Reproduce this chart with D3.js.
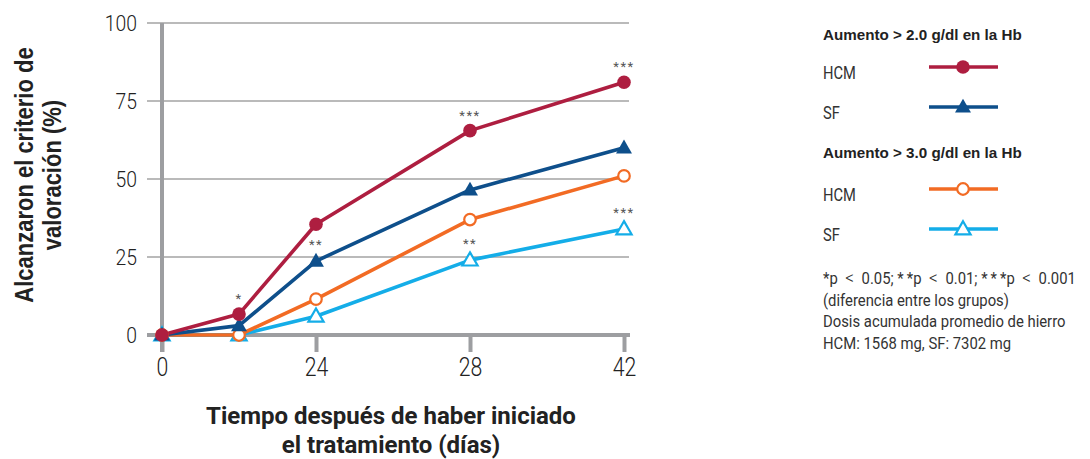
<!DOCTYPE html>
<html>
<head>
<meta charset="utf-8">
<script src="https://cdn.jsdelivr.net/npm/d3@7"></script>
<style>
  html, body { margin: 0; padding: 0; background: #fff; }
  svg { display: block; }
  text { font-family: "Roboto", "Liberation Sans", sans-serif; }
  .helv { font-family: "Liberation Sans", "Arial", sans-serif; }
</style>
</head>
<body>
<svg id="chart" width="1090" height="459"></svg>
<script>
// Axis slots: 0, 24, 28 and 42 days are evenly spaced; one intermediate visit sits halfway to day 24
const tickSlots = [0, 1, 2, 3];
const tickLabels = ["0", "24", "28", "42"];
const visitSlots = [0, 0.5, 1, 2, 3];
const yTicks = [0, 25, 50, 75, 100];

// Percentage of patients reaching the endpoint
const hcm20 = [0, 6.7, 35.5, 65.5, 81];
const sf20  = [0, 3, 23.7, 46.5, 60];
const hcm30 = [0, 0, 11.5, 37, 51];
const sf30  = [0, 0, 6, 24, 34];

const seriesColors = ["#ae1e40", "#0e4f8b", "#f26b24", "#14ade8"];
const seriesSymbols = ["circle", "triangle", "circle", "triangle"];
const seriesFilled = [true, true, false, false];

// Significance marks: series index, visit index, label
const sigSeries = [0, 1, 0, 3, 0, 3];
const sigVisit  = [1, 2, 3, 3, 4, 4];
const sigText   = ["*", "**", "***", "**", "***", "***"];

const legendGroups = ["Aumento > 2.0 g/dl en la Hb", "Aumento > 3.0 g/dl en la Hb"];
const legendLabels = ["HCM", "SF", "HCM", "SF"];
// First footnote: significance levels, each as [stars, threshold]
const pLevels = [["*", "0.05"], ["*\u2009*", "0.01"], ["*\u2009*\u2009*", "0.001"]];
const footnotes = [
  "(diferencia entre los grupos)",
  "Dosis acumulada promedio de hierro",
  "HCM: 1568 mg, SF: 7302 mg"
];

const values = [hcm20, sf20, hcm30, sf30];

const svg = d3.select("#chart");
const axisGray = "#9d9ea1";
const gridGray = "#a3a3a3";

const x = d3.scaleLinear().domain([0, 3]).range([162, 624]);
const y = d3.scaleLinear().domain([0, 100]).range([335, 23]);

// Horizontally condensed text placed at (px, py)
function narrowText(parent, px, py, sx, str) {
  return parent.append("g")
    .attr("transform", `translate(${px},${py}) scale(${sx},1)`)
    .append("text").text(str);
}

// Gridlines
svg.append("g")
  .selectAll("line")
  .data(yTicks.filter(d => d > 0))
  .join("line")
  .attr("x1", 147).attr("x2", 629)
  .attr("y1", d => y(d)).attr("y2", d => y(d))
  .attr("stroke", gridGray).attr("stroke-width", 1.3);

// Y axis
const yAxis = svg.append("g").attr("transform", "translate(137,0)")
  .call(d3.axisLeft(y).tickValues(yTicks).tickSize(0).tickPadding(0));
yAxis.select(".domain").remove();
yAxis.selectAll("text")
  .attr("x", 0)
  .attr("transform", "scale(0.88,1)")
  .style("font-size", "22px").style("font-weight", "300").attr("fill", "#222")
  .attr("dy", "0.36em");

svg.append("line")
  .attr("x1", x(0)).attr("x2", x(0))
  .attr("y1", y(100)).attr("y2", 352)
  .attr("stroke", axisGray).attr("stroke-width", 4);

// X axis
svg.append("line")
  .attr("x1", 147).attr("x2", 630)
  .attr("y1", y(0)).attr("y2", y(0))
  .attr("stroke", axisGray).attr("stroke-width", 4);

const xAxis = svg.append("g").attr("transform", `translate(0,${y(0)})`)
  .call(d3.axisBottom(x).tickValues(tickSlots)
    .tickFormat((d, i) => tickLabels[i]).tickSize(17).tickPadding(6));
xAxis.select(".domain").remove();
xAxis.selectAll("line").attr("stroke", axisGray).attr("stroke-width", 4);
xAxis.selectAll("text")
  .attr("transform", "scale(0.85,1)")
  .style("font-size", "25px").style("font-weight", "300").attr("fill", "#222");

// Series lines
const line = d3.line().x((d, i) => x(visitSlots[i])).y(d => y(d));
const drawOrder = [3, 2, 1, 0];
drawOrder.forEach(s => {
  svg.append("path")
    .datum(values[s])
    .attr("d", line)
    .attr("fill", "none")
    .attr("stroke", seriesColors[s])
    .attr("stroke-width", 3.6)
    .attr("stroke-linejoin", "round");
});

function symbolPath(s) {
  return seriesSymbols[s] === "circle"
    ? d3.symbol(d3.symbolCircle, seriesFilled[s] ? 145 : 105)()
    : d3.symbol(d3.symbolTriangle, seriesFilled[s] ? 110 : 100)();
}

function drawMarker(g, s, cx, cy) {
  g.append("path")
    .attr("d", symbolPath(s))
    .attr("transform", `translate(${cx},${cy + (seriesSymbols[s] === "triangle" ? 1 : 0)})`)
    .attr("fill", seriesFilled[s] ? seriesColors[s] : "#fff")
    .attr("stroke", seriesColors[s])
    .attr("stroke-width", seriesFilled[s] ? 0 : 2.2);
}

// Markers
const markers = svg.append("g");
drawOrder.forEach(s => {
  values[s].forEach((v, i) => drawMarker(markers, s, x(visitSlots[i]), y(v)));
});

// Significance asterisks
svg.append("g")
  .selectAll("text")
  .data(sigText)
  .join("text")
  .attr("x", (d, i) => x(visitSlots[sigVisit[i]]))
  .attr("y", (d, i) => y(values[sigSeries[i]][sigVisit[i]]) - (seriesSymbols[sigSeries[i]] === "triangle" ? 12 : 11))
  .attr("text-anchor", "middle")
  .attr("fill", "#555")
  .style("font-size", "13px")
  .style("letter-spacing", "1.5px")
  .text(d => d);

// Y axis title
const yTitleG = svg.append("g").attr("transform", "translate(33,175) rotate(-90) scale(0.88,1)");
const yTitle = yTitleG.append("text")
  .attr("class", "helv")
  .attr("text-anchor", "middle")
  .attr("fill", "#222")
  .style("font-size", "25px").style("font-weight", "700");
yTitle.append("tspan").attr("x", 0).attr("dy", 0).text("Alcanzaron el criterio de");
yTitle.append("tspan").attr("x", 0).attr("dy", 28).text("valoración (%)");

// X axis title
const xTitle = svg.append("text")
  .attr("x", 391).attr("y", 424)
  .attr("text-anchor", "middle")
  .attr("fill", "#222")
  .style("font-size", "24px").style("font-weight", "700");
xTitle.append("tspan").attr("x", 391).attr("dy", 0).text("Tiempo después de haber iniciado");
xTitle.append("tspan").attr("x", 391).attr("dy", 29).text("el tratamiento (días)");

// Legend
const legend = svg.append("g");
const headerY = [40, 158];
legendGroups.forEach((t, k) => {
  legend.append("text")
    .attr("class", "helv")
    .attr("x", 823).attr("y", headerY[k])
    .attr("fill", "#222")
    .style("font-size", "15.2px").style("font-weight", "700")
    .text(t);
});
const rowY = [67, 107, 189, 229];
legendLabels.forEach((t, s) => {
  narrowText(legend, 823, rowY[s] + 12, 0.84, t)
    .attr("fill", "#333")
    .style("font-size", "17.5px");
  legend.append("line")
    .attr("x1", 929).attr("x2", 998)
    .attr("y1", rowY[s]).attr("y2", rowY[s])
    .attr("stroke", seriesColors[s]).attr("stroke-width", 3.6);
  drawMarker(legend, s, 963, rowY[s]);
});

// Footnotes: significance line built from tspans so the "<" sign can be wider
const sigLine = narrowText(legend, 823, 284, 0.9, null)
  .attr("fill", "#333")
  .style("font-size", "16.5px");
pLevels.forEach((lv, i) => {
  sigLine.append("tspan").text((i > 0 ? "; " : "") + lv[0] + "p\u2002");
  sigLine.append("tspan").style("font-size", "19px").style("font-weight", "300").text("<");
  sigLine.append("tspan").text("\u2002" + lv[1]);
});
footnotes.forEach((t, i) => {
  narrowText(legend, 823, 305.5 + i * 21.5, 0.9, t)
    .attr("fill", "#333")
    .style("font-size", "16.5px");
});
</script>
</body>
</html>
